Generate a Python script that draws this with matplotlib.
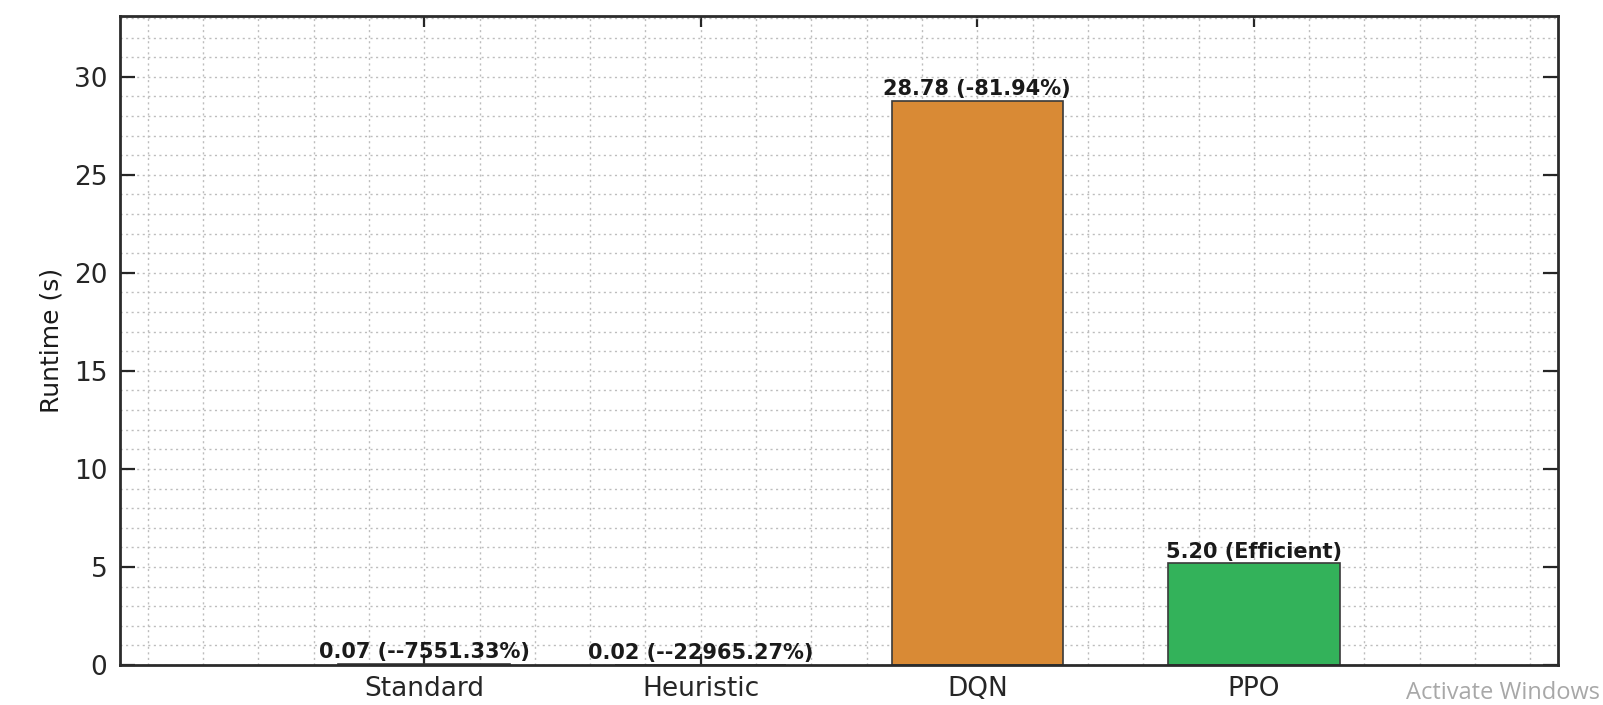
import matplotlib
matplotlib.use("Agg")
import matplotlib.pyplot as plt
from matplotlib.ticker import MultipleLocator

categories = ["Standard", "Heuristic", "DQN", "PPO"]
runtimes = [0.07, 0.02, 28.78, 5.20]
bar_labels = ["0.07 (--7551.33%)", "0.02 (--22965.27%)", "28.78 (-81.94%)", "5.20 (Efficient)"]
bar_colors = ["#3F7CC4", "#8C8C8C", "#D98A35", "#33B25A"]
yticks = [0, 5, 10, 15, 20, 25, 30]

plt.rcParams['font.family'] = ['DejaVu Sans']

W, H = 1603, 705
fig = plt.figure(figsize=(W / 100, H / 100), dpi=100)
L, R, B, T = 120, 1558, 665, 16
ax = fig.add_axes([L / W, (H - B) / H, (R - L) / W, (B - T) / H])

x = list(range(1, len(categories) + 1))
ax.bar(x, runtimes, width=0.62, color=bar_colors, edgecolor="#3a3a3a", linewidth=1.2, zorder=3)

ymax = max(runtimes) * 1.15
ax.set_xlim(-0.1, 5.1)
ax.set_ylim(0, ymax)

for xi, v, lab in zip(x, runtimes, bar_labels):
    ax.annotate(lab, (xi, v), xytext=(0, 1), textcoords="offset points",
                ha="center", va="bottom", fontsize=15, fontweight="bold",
                color="#1a1a1a", zorder=5)

ax.set_xticks(x)
ax.set_xticklabels(categories)
ax.set_yticks(yticks)
ax.xaxis.set_minor_locator(MultipleLocator(0.2))
ax.yaxis.set_minor_locator(MultipleLocator(1))

ax.grid(True, which="both", linestyle=(0, (1.5, 2.5)), color="#bdbdbd", linewidth=1.0, zorder=0)
ax.set_axisbelow(True)

ax.tick_params(axis="both", which="major", direction="in", labelsize=19,
               colors="#262626", width=1.6, top=True, right=True)
ax.tick_params(axis="y", which="major", length=11, pad=9)
ax.tick_params(axis="x", which="major", length=8, pad=8)
ax.tick_params(which="minor", length=0, top=True, right=True)

for s in ax.spines.values():
    s.set_linewidth(2.0)
    s.set_color("#2b2b2b")
    s.set_zorder(6)

ax.set_ylabel("Runtime (s)", fontsize=18, color="#1a1a1a")
ax.yaxis.set_label_coords(-0.039, 0.5)

fig.text(1600 / W, (H - 699) / H, "Activate Windows", fontsize=17, color="#a8a8a8",
         ha="right", va="baseline", family=["Open Sans", "DejaVu Sans"])

fig.savefig("out.png", dpi=100)
